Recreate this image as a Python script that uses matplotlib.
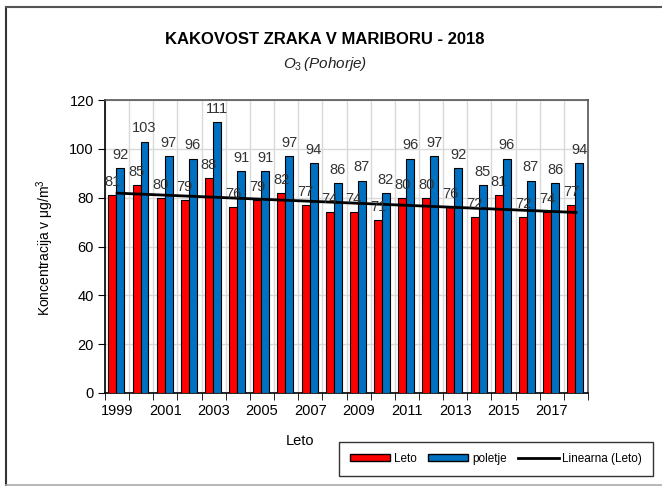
import numpy as np
import matplotlib
matplotlib.use("Agg")
import matplotlib.pyplot as plt
from matplotlib.patches import Patch
from matplotlib.lines import Line2D

years = list(range(1999, 2019))
leto = [81, 85, 80, 79, 88, 76, 79, 82, 77, 74, 74, 71, 80, 80, 76, 72, 81, 72, 74, 77]
poletje = [92, 103, 97, 96, 111, 91, 91, 97, 94, 86, 87, 82, 96, 97, 92, 85, 96, 87, 86, 94]
tick_years = years[::2]

plt.rcParams['font.family'] = ['Liberation Sans', 'DejaVu Sans']
plt.rcParams['mathtext.fontset'] = 'custom'
plt.rcParams['mathtext.rm'] = 'Liberation Sans'
plt.rcParams['mathtext.it'] = 'Liberation Sans:italic'

W, H = 662, 487
fig = plt.figure(figsize=(W / 100, H / 100), dpi=100)
ax = fig.add_axes([105 / W, 1 - 393 / H, (588 - 105) / W, (393 - 100) / H])

x = np.arange(len(years))
bw = 0.33
off = -0.03
ax.bar(x - bw / 2 + off, leto, bw, color='#FF0000', edgecolor='black', linewidth=0.8, zorder=3, label='Leto')
ax.bar(x + bw / 2 + off, poletje, bw, color='#0070C0', edgecolor='black', linewidth=0.8, zorder=3, label='poletje')

coef = np.polyfit(x, leto, 1)
ax.plot(x, np.polyval(coef, x), color='black', linewidth=2, zorder=4)

for xi, v in zip(x, leto):
    ax.text(xi - bw / 2 + off, v + 2.5, str(v), ha='center', va='bottom', fontsize=10.5, color='#333333', zorder=5)
for xi, v in zip(x, poletje):
    ax.text(xi + bw / 2 + off, v + 2.5, str(v), ha='center', va='bottom', fontsize=10.5, color='#333333', zorder=5)

ax.set_xlim(-0.5, len(years) - 0.5)
ax.set_ylim(0, 120)
ax.set_yticks(range(0, 121, 20))
ax.set_xticks([years.index(y) for y in tick_years])
ax.set_xticklabels([str(y) for y in tick_years])
ax.set_xticks(np.arange(-0.5, len(years), 1), minor=True)
ax.tick_params(axis='x', which='major', length=0, labelsize=10.5, pad=8)
ax.tick_params(axis='x', which='minor', length=5, direction='out', color='black')
ax.tick_params(axis='y', length=5, direction='out', labelsize=10.5, pad=3)
ax.grid(True, axis='y', which='major', color='#d9d9d9', linewidth=1, zorder=0)
ax.grid(True, axis='x', which='minor', color='#d9d9d9', linewidth=1, zorder=0)
ax.set_axisbelow(True)
for s in ['left', 'bottom']:
    ax.spines[s].set_color('black')
    ax.spines[s].set_linewidth(1.2)
for s in ['top', 'right']:
    ax.spines[s].set_color('#555555')
    ax.spines[s].set_linewidth(1.2)

fig.text(325 / W, 1 - 40 / H, 'KAKOVOST ZRAKA V MARIBORU - 2018', ha='center', va='center',
         fontsize=12, fontweight='bold')
fig.text(325 / W, 1 - 64 / H, r'$O_3\,$(Pohorje)', ha='center', va='center', fontsize=11,
         style='italic', color='#222222')
fig.text(300 / W, 1 - 441 / H, 'Leto', ha='center', va='center', fontsize=10.5)
fig.text(45 / W, 1 - 248 / H, r'Koncentracija v μg/m$^3$', ha='center', va='center', fontsize=10,
         rotation=90)

handles = [Patch(facecolor='#FF0000', edgecolor='black', label='Leto'),
           Patch(facecolor='#0070C0', edgecolor='black', label='poletje'),
           Line2D([0], [0], color='black', linewidth=2, label='Linearna (Leto)')]
leg = fig.legend(handles=handles, loc='center', bbox_to_anchor=((337 + 655) / 2 / W, 1 - 459 / H),
                 ncol=3, fontsize=8.5, frameon=True, fancybox=False, edgecolor='black',
                 handlelength=3.4, handleheight=0.5, columnspacing=1.0, handletextpad=0.3,
                 borderpad=0.9)
leg.get_frame().set_linewidth(1.0)

# outer chart border
fig.add_artist(Line2D([6 / W, 6 / W], [1 - 7 / H, 1 - 485 / H], transform=fig.transFigure,
                      color='#333333', linewidth=1.5))
fig.add_artist(Line2D([6 / W, 1.0], [1 - 7 / H, 1 - 7 / H], transform=fig.transFigure,
                      color='#555555', linewidth=1.5))
fig.add_artist(Line2D([6 / W, 1.0], [1 - 485 / H, 1 - 485 / H], transform=fig.transFigure,
                      color='#aaaaaa', linewidth=1.2))

fig.savefig('out.png', dpi=100)
